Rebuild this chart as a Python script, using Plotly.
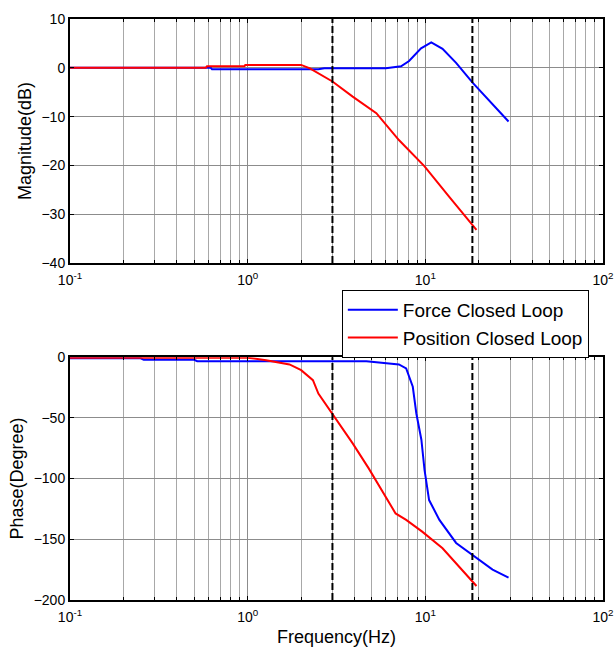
import plotly.graph_objects as go
from plotly.subplots import make_subplots

# Magnitude data
force_mag_f = [0.1, 0.62, 0.63, 2.5, 2.7, 6.0, 7.3, 8.1, 9.46, 10.8, 12.5, 14.9, 18.5, 23.9, 29.4]
force_mag = [0.0, 0.0, -0.3, -0.3, -0.1, -0.1, 0.3, 1.4, 4.0, 5.2, 3.9, 1.0, -3.1, -7.5, -11.0]
pos_mag_f = [0.1, 0.58, 0.59, 0.96, 0.97, 2.0, 2.24, 3.0, 3.9, 5.3, 7.1, 9.9, 13.6, 16.9, 19.4]
pos_mag = [0.0, 0.0, 0.3, 0.3, 0.6, 0.6, -0.1, -2.8, -5.9, -9.3, -14.8, -20.2, -26.4, -30.5, -33.2]

# Phase data
force_ph_f = [0.1, 0.25, 0.26, 0.5, 0.52, 4.66, 7.1, 7.8, 8.5, 8.9, 9.5, 9.9, 10.5, 12.0, 14.9, 18.5, 23.9, 29.4]
force_ph = [-1.0, -1.0, -2.2, -2.2, -3.4, -3.4, -6.0, -9.3, -24.4, -46.4, -68.0, -93.0, -117.7, -134.0, -153.0, -163.0, -175.0, -181.6]
pos_ph_f = [0.1, 1.0, 1.27, 1.72, 2.0, 2.33, 2.5, 3.0, 3.9, 4.8, 5.8, 6.8, 7.8, 9.6, 12.5, 15.5, 19.4]
pos_ph = [-0.5, -0.5, -2.5, -6.0, -10.7, -19.0, -30.0, -46.4, -71.0, -91.6, -112.0, -128.7, -134.0, -143.7, -157.4, -172.5, -188.5]

cutoff_freqs = [3.0, 18.4]

x_tickvals = [0.1, 1, 10, 100]
x_ticktext = ["10<sup>-1</sup>", "10<sup>0</sup>", "10<sup>1</sup>", "10<sup>2</sup>"]

fig = make_subplots(rows=2, cols=1, vertical_spacing=0.0)

blue = "#0000ff"
red = "#ff0000"
FONT = "Liberation Sans, Arial"

fig.add_trace(go.Scatter(x=force_mag_f, y=force_mag, mode="lines", line=dict(color=blue, width=2),
                         name="Force Closed Loop", showlegend=True), row=1, col=1)
fig.add_trace(go.Scatter(x=pos_mag_f, y=pos_mag, mode="lines", line=dict(color=red, width=2),
                         name="Position Closed Loop", showlegend=True), row=1, col=1)
fig.add_trace(go.Scatter(x=force_ph_f, y=force_ph, mode="lines", line=dict(color=blue, width=2),
                         name="Force Closed Loop", showlegend=False), row=2, col=1)
fig.add_trace(go.Scatter(x=pos_ph_f, y=pos_ph, mode="lines", line=dict(color=red, width=2),
                         name="Position Closed Loop", showlegend=False), row=2, col=1)

for xref, yref in [("x", "y"), ("x2", "y2")]:
    for fc in cutoff_freqs:
        fig.add_shape(type="line", xref=xref, yref=yref + " domain", x0=fc, x1=fc, y0=0, y1=1,
                      line=dict(color="black", width=2, dash="7px,3px"))

grid = "#8c8c8c"
mgrid = "#a8a8a8"
axis_common = dict(showline=True, linecolor="black", linewidth=2, mirror="ticks",
                   ticks="inside", ticklen=4, tickcolor="black",
                   gridcolor=grid, gridwidth=1, zeroline=False, automargin=False,
                   tickfont=dict(family=FONT, size=14, color="black"))

for r in (1, 2):
    fig.update_xaxes(type="log", range=[-1, 2], tickvals=x_tickvals, ticktext=x_ticktext,
                     ticklabelstandoff=3,
                     minor=dict(showgrid=True, gridcolor=mgrid, gridwidth=1, ticks="inside", ticklen=3,
                                tickcolor="black", tickvals=[m * 10 ** e for e in (-1, 0, 1) for m in range(2, 10)]),
                     row=r, col=1, **axis_common)

fig.update_yaxes(range=[-40, 10], dtick=10, row=1, col=1,
                 title=dict(text="Magnitude(dB)", font=dict(family=FONT, size=18, color="black"), standoff=5),
                 **axis_common)
fig.update_yaxes(range=[-200, 0], dtick=50, row=2, col=1,
                 title=dict(text="Phase(Degree)", font=dict(family=FONT, size=18, color="black"), standoff=5),
                 **axis_common)
fig.update_xaxes(row=2, col=1,
                 title=dict(text="Frequency(Hz)", font=dict(family=FONT, size=18, color="black"), standoff=8))

fig.update_layout(
    width=616, height=647,
    margin=dict(l=70, r=13, t=19, b=47),
    plot_bgcolor="white", paper_bgcolor="white",
    yaxis=dict(domain=[0.580, 1.0]),
    yaxis2=dict(domain=[0.0, 0.418]),
    legend=dict(x=0.51, y=0.5336, xanchor="left", yanchor="top",
                bordercolor="black", borderwidth=1, bgcolor="white",
                font=dict(family=FONT, size=19, color="black"),
                tracegroupgap=0, itemwidth=50),
    showlegend=True,
)

fig.write_html("out.html", config={"displayModeBar": False},
               post_script="document.body.style.margin='0px';")
